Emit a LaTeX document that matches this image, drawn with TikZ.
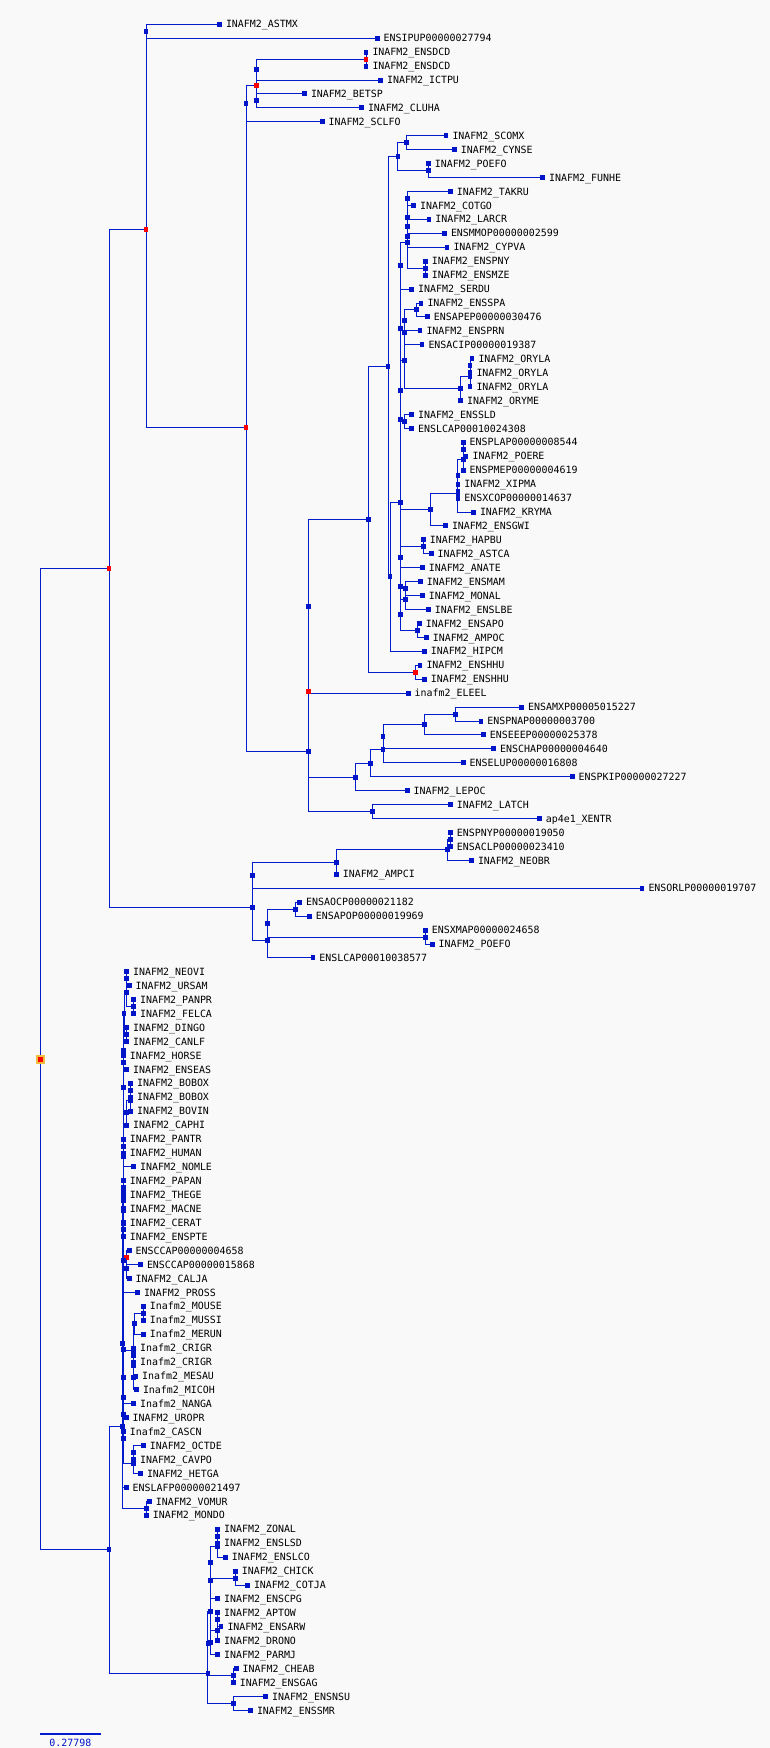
\documentclass[tikz,border=0pt]{standalone}
\usepackage{fontspec}
\newfontfamily\labfont{DejaVu Sans Mono}
\usetikzlibrary{calc}
\definecolor{treeblue}{RGB}{0,28,204}
\definecolor{sqblue}{RGB}{0,20,200}
\definecolor{dupred}{RGB}{255,0,0}
\definecolor{rootorange}{RGB}{240,190,60}
\definecolor{bgc}{RGB}{249,249,249}
\pgfdeclarelayer{back}
\pgfdeclarelayer{edges}
\pgfsetlayers{back,edges,main}
\newcommand\lfn[4]{\node[sq] (#1) at (#2,{ly(#3)}) {};\node[lab] (#1t) at ([xshift=6.5pt,yshift=-3.6pt]#1.center) {#4};}
\newcommand\inn[4][sq]{\node[#1] (#2) at (#3,{ly(#4)}) {};}
\newcommand\kids[2]{\foreach \kk in {#2}{\draw[br] (#1.center) |- (\kk.center);}}
\begin{document}
\begin{tikzpicture}[x=1pt,y=-1pt,
  declare function={ly(\i)=24.3+13.935*\i;},
  br/.style={draw=treeblue,line width=1pt},
  sq/.style={fill=sqblue,draw=none,minimum width=4.6pt,minimum height=5pt,inner sep=0pt,outer sep=0pt},
  rsq/.style={sq,fill=dupred},
  lab/.style={anchor=base west,inner sep=0pt,outer sep=0pt,font=\labfont\fontsize{9.95pt}{12pt}\selectfont}]
\useasboundingbox (0,0) rectangle (770,1748);
\begin{pgfonlayer}{back}
\fill[bgc] (0,0) rectangle (770,1748);
\end{pgfonlayer}
% leaves
\lfn{l0}{219.5}{0}{INAFM2\_ASTMX}
\lfn{l1}{377.2}{1}{ENSIPUP00000027794}
\lfn{l2}{366}{2}{INAFM2\_ENSDCD}
\lfn{l3}{366}{3}{INAFM2\_ENSDCD}
\lfn{l4}{380.6}{4}{INAFM2\_ICTPU}
\lfn{l5}{304.5}{5}{INAFM2\_BETSP}
\lfn{l6}{361.5}{6}{INAFM2\_CLUHA}
\lfn{l7}{322.2}{7}{INAFM2\_SCLFO}
\lfn{l8}{446}{8}{INAFM2\_SCOMX}
\lfn{l9}{454.3}{9}{INAFM2\_CYNSE}
\lfn{l10}{428.3}{10}{INAFM2\_POEFO}
\lfn{l11}{542.7}{11}{INAFM2\_FUNHE}
\lfn{l12}{450.4}{12}{INAFM2\_TAKRU}
\lfn{l13}{413.6}{13}{INAFM2\_COTGO}
\lfn{l14}{428.8}{14}{INAFM2\_LARCR}
\lfn{l15}{444.5}{15}{ENSMMOP00000002599}
\lfn{l16}{447}{16}{INAFM2\_CYPVA}
\lfn{l17}{425.3}{17}{INAFM2\_ENSPNY}
\lfn{l18}{425.3}{18}{INAFM2\_ENSMZE}
\lfn{l19}{411.6}{19}{INAFM2\_SERDU}
\lfn{l20}{421}{20}{INAFM2\_ENSSPA}
\lfn{l21}{427.3}{21}{ENSAPEP00000030476}
\lfn{l22}{420}{22}{INAFM2\_ENSPRN}
\lfn{l23}{422}{23}{ENSACIP00000019387}
\lfn{l24}{472}{24}{INAFM2\_ORYLA}
\lfn{l25}{470}{25}{INAFM2\_ORYLA}
\lfn{l26}{470}{26}{INAFM2\_ORYLA}
\lfn{l27}{460.7}{27}{INAFM2\_ORYME}
\lfn{l28}{411.6}{28}{INAFM2\_ENSSLD}
\lfn{l29}{411.6}{29}{ENSLCAP00010024308}
\lfn{l30}{463.2}{30}{ENSPLAP00000008544}
\lfn{l31}{466.1}{31}{INAFM2\_POERE}
\lfn{l32}{463.2}{32}{ENSPMEP00000004619}
\lfn{l33}{457.8}{33}{INAFM2\_XIPMA}
\lfn{l34}{457.8}{34}{ENSXCOP00000014637}
\lfn{l35}{473.5}{35}{INAFM2\_KRYMA}
\lfn{l36}{445.5}{36}{INAFM2\_ENSGWI}
\lfn{l37}{423.4}{37}{INAFM2\_HAPBU}
\lfn{l38}{431.2}{38}{INAFM2\_ASTCA}
\lfn{l39}{422.4}{39}{INAFM2\_ANATE}
\lfn{l40}{420.4}{40}{INAFM2\_ENSMAM}
\lfn{l41}{422.4}{41}{INAFM2\_MONAL}
\lfn{l42}{428.3}{42}{INAFM2\_ENSLBE}
\lfn{l43}{419.4}{43}{INAFM2\_ENSAPO}
\lfn{l44}{426.3}{44}{INAFM2\_AMPOC}
\lfn{l45}{424.4}{45}{INAFM2\_HIPCM}
\lfn{l46}{420}{46}{INAFM2\_ENSHHU}
\lfn{l47}{424.4}{47}{INAFM2\_ENSHHU}
\lfn{l48}{408.2}{48}{inafm2\_ELEEL}
\lfn{l49}{521.6}{49}{ENSAMXP00005015227}
\lfn{l50}{480.8}{50}{ENSPNAP00000003700}
\lfn{l51}{483.3}{51}{ENSEEEP00000025378}
\lfn{l52}{493.6}{52}{ENSCHAP00000004640}
\lfn{l53}{463.2}{53}{ENSELUP00000016808}
\lfn{l54}{572.2}{54}{ENSPKIP00000027227}
\lfn{l55}{407.2}{55}{INAFM2\_LEPOC}
\lfn{l56}{450.4}{56}{INAFM2\_LATCH}
\lfn{l57}{539.3}{57}{ap4e1\_XENTR}
\lfn{l58}{450.4}{58}{ENSPNYP00000019050}
\lfn{l59}{450.4}{59}{ENSACLP00000023410}
\lfn{l60}{471.5}{60}{INAFM2\_NEOBR}
\lfn{l61}{336.4}{61}{INAFM2\_AMPCI}
\lfn{l62}{642}{62}{ENSORLP00000019707}
\lfn{l63}{299.6}{63}{ENSAOCP00000021182}
\lfn{l64}{309.4}{64}{ENSAPOP00000019969}
\lfn{l65}{425.3}{65}{ENSXMAP00000024658}
\lfn{l66}{432.2}{66}{INAFM2\_POEFO}
\lfn{l67}{312.9}{67}{ENSLCAP00010038577}
\lfn{l68}{126.7}{68}{INAFM2\_NEOVI}
\lfn{l69}{129.2}{69}{INAFM2\_URSAM}
\lfn{l70}{133.6}{70}{INAFM2\_PANPR}
\lfn{l71}{133.6}{71}{INAFM2\_FELCA}
\lfn{l72}{126.7}{72}{INAFM2\_DINGO}
\lfn{l73}{126.7}{73}{INAFM2\_CANLF}
\lfn{l74}{123.3}{74}{INAFM2\_HORSE}
\lfn{l75}{126.7}{75}{INAFM2\_ENSEAS}
\lfn{l76}{130.6}{76}{INAFM2\_BOBOX}
\lfn{l77}{130.6}{77}{INAFM2\_BOBOX}
\lfn{l78}{130.6}{78}{INAFM2\_BOVIN}
\lfn{l79}{126.7}{79}{INAFM2\_CAPHI}
\lfn{l80}{123.3}{80}{INAFM2\_PANTR}
\lfn{l81}{123.3}{81}{INAFM2\_HUMAN}
\lfn{l82}{133.6}{82}{INAFM2\_NOMLE}
\lfn{l83}{123.3}{83}{INAFM2\_PAPAN}
\lfn{l84}{123.3}{84}{INAFM2\_THEGE}
\lfn{l85}{123.3}{85}{INAFM2\_MACNE}
\lfn{l86}{123.3}{86}{INAFM2\_CERAT}
\lfn{l87}{123.3}{87}{INAFM2\_ENSPTE}
\lfn{l88}{129.2}{88}{ENSCCAP00000004658}
\lfn{l89}{140.5}{89}{ENSCCAP00000015868}
\lfn{l90}{129.2}{90}{INAFM2\_CALJA}
\lfn{l91}{137.5}{91}{INAFM2\_PROSS}
\lfn{l92}{143.4}{92}{Inafm2\_MOUSE}
\lfn{l93}{143.4}{93}{Inafm2\_MUSSI}
\lfn{l94}{143.4}{94}{Inafm2\_MERUN}
\lfn{l95}{133.6}{95}{Inafm2\_CRIGR}
\lfn{l96}{133.6}{96}{Inafm2\_CRIGR}
\lfn{l97}{135.6}{97}{Inafm2\_MESAU}
\lfn{l98}{136.5}{98}{Inafm2\_MICOH}
\lfn{l99}{133.6}{99}{Inafm2\_NANGA}
\lfn{l100}{126.2}{100}{INAFM2\_UROPR}
\lfn{l101}{123.3}{101}{Inafm2\_CASCN}
\lfn{l102}{143.4}{102}{INAFM2\_OCTDE}
\lfn{l103}{133.6}{103}{INAFM2\_CAVPO}
\lfn{l104}{140.5}{104}{INAFM2\_HETGA}
\lfn{l105}{126.2}{105}{ENSLAFP00000021497}
\lfn{l106}{149.3}{106}{INAFM2\_VOMUR}
\lfn{l107}{146.4}{107}{INAFM2\_MONDO}
\lfn{l108}{217.6}{108}{INAFM2\_ZONAL}
\lfn{l109}{217.6}{109}{INAFM2\_ENSLSD}
\lfn{l110}{225.4}{110}{INAFM2\_ENSLCO}
\lfn{l111}{235.3}{111}{INAFM2\_CHICK}
\lfn{l112}{247.5}{112}{INAFM2\_COTJA}
\lfn{l113}{217.6}{113}{INAFM2\_ENSCPG}
\lfn{l114}{217.6}{114}{INAFM2\_APTOW}
\lfn{l115}{221}{115}{INAFM2\_ENSARW}
\lfn{l116}{217.6}{116}{INAFM2\_DRONO}
\lfn{l117}{217.6}{117}{INAFM2\_PARMJ}
\lfn{l118}{236.2}{118}{INAFM2\_CHEAB}
\lfn{l119}{233.3}{119}{INAFM2\_ENSGAG}
\lfn{l120}{265.7}{120}{INAFM2\_ENSNSU}
\lfn{l121}{250.5}{121}{INAFM2\_ENSSMR}
% internal nodes
\inn{a01}{146}{0.5}
\inn[rsq]{dcd}{366}{2.5}
\inn{nDI}{256.4}{3.25}
\inn{nBC}{256.4}{5.5}
\inn[rsq]{R1}{256.4}{4.375}
\inn{B}{246}{5.6875}
\inn{fA1}{406.7}{8.5}
\inn{fA2}{428.3}{10.5}
\inn{fA}{397.8}{9.5}
\inn{n1}{407.7}{12.5}
\inn{V}{407.7}{14.5}
\inn{W}{407.7}{15.25}
\inn{Y}{407.7}{13.875}
\inn{Z}{425.3}{17.5}
\inn{X}{407.7}{15.6875}
\inn{S}{400.3}{17.34375}
\inn{SA}{416.5}{20.5}
\inn{SA2}{404.2}{21.25}
\inn{Q}{404.2}{22.125}
\inn{O1}{470}{24.5}
\inn{O2}{470}{25.25}
\inn{ORY}{460.7}{26.125}
\inn{Q2}{404.2}{24.125}
\inn{SL}{404.2}{28.5}
\inn{T1}{400.3}{26.3125}
\inn{T2}{400.3}{21.828}
\inn{Pa}{463.2}{30.5}
\inn{Pb}{463.2}{31.25}
\inn{Pd}{457.8}{33.5}
\inn{Pc}{457.8}{32.375}
\inn{Pe}{457.8}{33.6875}
\inn{Pf}{430.7}{34.844}
\inn{T3}{400.3}{28.336}
\inn{Ph}{423.4}{37.5}
\inn{Pi}{400.3}{38.25}
\inn{Pl}{405.2}{40.5}
\inn{Pk}{405.2}{41.25}
\inn{Pn}{417.5}{43.5}
\inn{Pm}{400.3}{42.375}
\inn{T4}{400.3}{40.3125}
\inn{P3}{400.3}{34.324}
\inn{P2}{390}{39.662}
\inn{P1}{388}{24.581}
\inn[rsq]{HHU}{415.5}{46.5}
\inn{G}{368.4}{35.54}
\inn{H}{308.4}{41.77}
\inn{F6}{455.3}{49.5}
\inn{F5}{424.4}{50.25}
\inn{F4}{383.1}{51.125}
\inn{F3}{383.1}{52.0625}
\inn{F2}{370.3}{53.031}
\inn{F}{355.6}{54.016}
\inn[rsq]{E}{308.4}{47.893}
\inn{LX}{372.3}{56.5}
\inn{D}{308.4}{52.197}
\inn[rsq]{C}{246}{28.942}
\inn[rsq]{A2}{146}{14.721}
\inn{M1c}{450.4}{58.5}
\inn{M1b}{447.4}{59.25}
\inn{M1a}{336.4}{60.125}
\inn{M1}{252.5}{61.0625}
\inn{AA}{295.2}{63.5}
\inn{XP}{425.3}{65.5}
\inn{M2a}{267.7}{64.5}
\inn{M2}{267.7}{65.75}
\inn{M}{252.5}{63.406}
\inn[rsq]{K}{109}{39.064}
\inn{NU}{126.7}{68.5}
\inn{PF}{133.6}{70.5}
\inn{NUPF}{126.7}{69.5}
\inn{DC}{126.7}{72.5}
\inn{CARN}{124}{71.0}
\inn{HE}{123.3}{74.5}
\inn{BB}{130.6}{76.5}
\inn{BBB}{130.6}{77.25}
\inn{BOV}{126.7}{78.125}
\inn{EB}{123.3}{76.3125}
\inn{LAU}{123.3}{73.656}
\inn{PH}{123.3}{80.5}
\inn{PHN}{123.3}{81.25}
\inn{PT}{123.3}{83.5}
\inn{PTM}{123.3}{84.25}
\inn{PTMC}{123.3}{85.125}
\inn{OWM}{123.3}{86.0625}
\inn{CAT}{123.3}{83.656}
\inn[rsq]{CCp}{126.7}{88.5}
\inn{NWM}{126.7}{89.25}
\inn{PRI}{123.3}{86.453}
\inn{PRI2}{123.3}{88.727}
\inn{MM}{143.4}{92.5}
\inn{MMM}{134.6}{93.25}
\inn{CR}{133.6}{95.5}
\inn{CR2}{133.6}{96.25}
\inn{CRI}{133.6}{97.125}
\inn{MUR}{133.6}{95.1875}
\inn{MUO}{123.3}{97.094}
\inn{MU2}{123.3}{98.547}
\inn{MU3}{123.3}{99.773}
\inn{OC}{133.6}{102.5}
\inn{OCH}{133.6}{103.25}
\inn{ROD}{123.3}{101.512}
\inn{EUA}{123.3}{95.119}
\inn{BOR}{123.3}{84.388}
\inn{EUT}{122.3}{94.694}
\inn{VM}{146.4}{106.5}
\inn{MAM}{122.3}{100.597}
\inn{ZL}{217.6}{108.5}
\inn{ZLC}{217.6}{109.25}
\inn{CCh}{235.3}{111.5}
\inn{N0}{210.2}{110.375}
\inn{N}{210.2}{111.6875}
\inn{AE}{217.6}{114.5}
\inn{AED}{217.6}{115.25}
\inn{AEDP}{210.2}{116.125}
\inn{Bx2}{210.2}{113.906}
\inn{CG}{233.3}{118.5}
\inn{Bx1}{207.8}{116.203}
\inn{NS}{233.3}{120.5}
\inn{Bd}{207.8}{118.352}
\inn{BOT}{109}{109.474}
\node[fill=rootorange,draw=none,minimum width=9pt,minimum height=8.5pt,inner sep=0pt] (ROOTo) at (40.3,{ly(74.27)}) {};
\node[rsq] (ROOT) at (ROOTo.center) {};
% edges
\begin{pgfonlayer}{edges}
\kids{a01}{l0,l1}
\kids{dcd}{l2,l3}
\kids{nDI}{dcd,l4}
\kids{nBC}{l5,l6}
\kids{R1}{nDI,nBC}
\kids{B}{R1,l7}
\kids{fA1}{l8,l9}
\kids{fA2}{l10,l11}
\kids{fA}{fA1,fA2}
\kids{n1}{l12,l13}
\kids{V}{l14,l15}
\kids{W}{V,l16}
\kids{Y}{n1,W}
\kids{Z}{l17,l18}
\kids{X}{Y,Z}
\kids{S}{X,l19}
\kids{SA}{l20,l21}
\kids{SA2}{SA,l22}
\kids{Q}{SA2,l23}
\kids{O1}{l24,l25}
\kids{O2}{O1,l26}
\kids{ORY}{O2,l27}
\kids{Q2}{Q,ORY}
\kids{SL}{l28,l29}
\kids{T1}{Q2,SL}
\kids{T2}{S,T1}
\kids{Pa}{l30,l31}
\kids{Pb}{Pa,l32}
\kids{Pd}{l33,l34}
\kids{Pc}{Pb,Pd}
\kids{Pe}{Pc,l35}
\kids{Pf}{Pe,l36}
\kids{T3}{T2,Pf}
\kids{Ph}{l37,l38}
\kids{Pi}{Ph,l39}
\kids{Pl}{l40,l41}
\kids{Pk}{Pl,l42}
\kids{Pn}{l43,l44}
\kids{Pm}{Pk,Pn}
\kids{T4}{Pi,Pm}
\kids{P3}{T3,T4}
\kids{P2}{P3,l45}
\kids{P1}{fA,P2}
\kids{HHU}{l46,l47}
\kids{G}{P1,HHU}
\kids{H}{G,l48}
\kids{F6}{l49,l50}
\kids{F5}{F6,l51}
\kids{F4}{F5,l52}
\kids{F3}{F4,l53}
\kids{F2}{F3,l54}
\kids{F}{F2,l55}
\kids{E}{H,F}
\kids{LX}{l56,l57}
\kids{D}{E,LX}
\kids{C}{B,D}
\kids{A2}{a01,C}
\kids{M1c}{l58,l59}
\kids{M1b}{M1c,l60}
\kids{M1a}{M1b,l61}
\kids{M1}{M1a,l62}
\kids{AA}{l63,l64}
\kids{XP}{l65,l66}
\kids{M2a}{AA,XP}
\kids{M2}{M2a,l67}
\kids{M}{M1,M2}
\kids{K}{A2,M}
\kids{NU}{l68,l69}
\kids{PF}{l70,l71}
\kids{NUPF}{NU,PF}
\kids{DC}{l72,l73}
\kids{CARN}{NUPF,DC}
\kids{HE}{l74,l75}
\kids{BB}{l76,l77}
\kids{BBB}{BB,l78}
\kids{BOV}{BBB,l79}
\kids{EB}{HE,BOV}
\kids{LAU}{CARN,EB}
\kids{PH}{l80,l81}
\kids{PHN}{PH,l82}
\kids{PT}{l83,l84}
\kids{PTM}{PT,l85}
\kids{PTMC}{PTM,l86}
\kids{OWM}{PTMC,l87}
\kids{CAT}{PHN,OWM}
\kids{CCp}{l88,l89}
\kids{NWM}{CCp,l90}
\kids{PRI}{CAT,NWM}
\kids{PRI2}{PRI,l91}
\kids{MM}{l92,l93}
\kids{MMM}{MM,l94}
\kids{CR}{l95,l96}
\kids{CR2}{CR,l97}
\kids{CRI}{CR2,l98}
\kids{MUR}{MMM,CRI}
\kids{MUO}{MUR,l99}
\kids{MU2}{MUO,l100}
\kids{MU3}{MU2,l101}
\kids{OC}{l102,l103}
\kids{OCH}{OC,l104}
\kids{ROD}{MU3,OCH}
\kids{EUA}{PRI2,ROD}
\kids{BOR}{LAU,EUA}
\kids{EUT}{BOR,l105}
\kids{VM}{l106,l107}
\kids{MAM}{EUT,VM}
\kids{ZL}{l108,l109}
\kids{ZLC}{ZL,l110}
\kids{CCh}{l111,l112}
\kids{N0}{ZLC,CCh}
\kids{N}{N0,l113}
\kids{AE}{l114,l115}
\kids{AED}{AE,l116}
\kids{AEDP}{AED,l117}
\kids{Bx2}{N,AEDP}
\kids{CG}{l118,l119}
\kids{Bx1}{Bx2,CG}
\kids{NS}{l120,l121}
\kids{Bd}{Bx1,NS}
\kids{BOT}{MAM,Bd}
\kids{ROOT}{K,BOT}
\end{pgfonlayer}
% scale bar
\coordinate (sbL) at (40.3,1733.7);
\coordinate (sbR) at (100.7,1733.7);
\draw[treeblue,line width=2pt] (sbL) -- (sbR);
\node[anchor=base,inner sep=0pt,text=sqblue,font=\labfont\fontsize{9.95pt}{12pt}\selectfont] (sbt) at (70.3,1746) {0.27798};
\end{tikzpicture}
\end{document}
